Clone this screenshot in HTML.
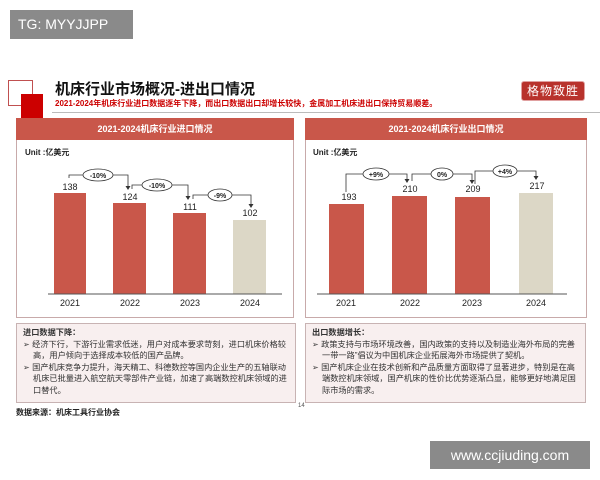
<!DOCTYPE html>
<html><head><meta charset="utf-8"><style>
*{margin:0;padding:0;box-sizing:border-box}
body{width:600px;height:480px;background:#fff;position:relative;overflow:hidden;font-family:"Liberation Sans","Noto Sans CJK SC",sans-serif}
.a{position:absolute}
.hdr{background:#c9574a;color:#fff;font-size:9px;font-weight:bold;text-align:center;line-height:22px}
.panel{border:1px solid #c8aaaa}
.box{background:#f8efef;border:1px solid #c8b3b3;font-size:8.2px;line-height:11.5px;color:#333;padding:3px 6px}
.box p{padding-left:10px;text-indent:-10px}
</style></head><body>
<div class="a" style="left:10px;top:10px;width:123px;height:29px;background:#8a8a8a;color:#fff;font-size:14px;line-height:29px;padding-left:8px">TG: MYYJJPP</div>
<div class="a" style="left:8px;top:80px;width:25px;height:26px;border:1px solid #c05050"></div>
<div class="a" style="left:21px;top:94px;width:22px;height:25px;background:#c00"></div>
<div class="a" style="left:55px;top:78px;font-size:15px;font-weight:bold;color:#111">机床行业市场概况-进出口情况</div>
<div class="a" style="left:55px;top:98px;font-size:8px;font-weight:bold;color:#c00">2021-2024年机床行业进口数据逐年下降，而出口数据出口却增长较快，金属加工机床进出口保持贸易顺差。</div>
<div class="a" style="left:52px;top:112px;width:548px;height:1px;background:#bbb"></div>
<div class="a" style="left:521px;top:81px;width:64px;height:20px;background:#b8322c;border:1px solid #e0a0a0;border-radius:3px;color:#fff;font-size:12px;line-height:18px;text-align:center;letter-spacing:1px">格物致胜</div>

<div class="a panel" style="left:16px;top:118px;width:278px;height:200px"></div>
<div class="a panel" style="left:305px;top:118px;width:282px;height:200px"></div>
<div class="a hdr" style="left:16px;top:118px;width:278px;height:22px">2021-2024机床行业进口情况</div>
<div class="a hdr" style="left:305px;top:118px;width:282px;height:22px">2021-2024机床行业出口情况</div>

<svg class="a" style="left:0;top:0" width="600" height="480" font-family="Liberation Sans, Noto Sans CJK SC, sans-serif">
<g font-size="8" font-weight="bold" fill="#222"><text x="25" y="155">Unit :亿美元</text><text x="313" y="155">Unit :亿美元</text></g>
<g fill="#c9574a">
<rect x="54" y="193" width="32" height="101"/><rect x="113" y="203" width="33" height="91"/><rect x="173" y="213" width="33" height="81"/>
<rect x="329" y="204" width="35" height="90"/><rect x="392" y="196" width="35" height="98"/><rect x="455" y="197" width="35" height="97"/>
</g>
<rect x="233" y="220" width="33" height="74" fill="#dcd7c6"/>
<rect x="519" y="193" width="34" height="101" fill="#dcd7c6"/>
<g stroke="#555" stroke-width="1"><line x1="48" y1="294" x2="282" y2="294"/><line x1="317" y1="294" x2="567" y2="294"/></g>
<g font-size="9" fill="#222" text-anchor="middle">
<text x="70" y="306">2021</text><text x="130" y="306">2022</text><text x="190" y="306">2023</text><text x="250" y="306">2024</text>
<text x="346" y="306">2021</text><text x="410" y="306">2022</text><text x="472" y="306">2023</text><text x="536" y="306">2024</text>
<text x="70" y="190">138</text><text x="130" y="200">124</text><text x="190" y="210">111</text><text x="250" y="216">102</text>
<text x="349" y="200">193</text><text x="410" y="192">210</text><text x="473" y="192">209</text><text x="537" y="189">217</text>
</g>
<g fill="none" stroke="#333" stroke-width="0.8">
<polyline points="69,178 69,175 128,175 128,187"/><polyline points="132,189 132,185 188,185 188,197"/><polyline points="193,199 193,195 251,195 251,205"/>
<polyline points="346,192 346,174 407,174 407,180"/><polyline points="412,181 412,174 472,174 472,181"/><polyline points="475,184 475,171 536,171 536,177"/>
</g>
<g fill="#333">
<polygon points="125.5,186 130.5,186 128,190"/><polygon points="185.5,196 190.5,196 188,200"/><polygon points="248.5,204 253.5,204 251,208"/>
<polygon points="404.5,179 409.5,179 407,183"/><polygon points="469.5,180 474.5,180 472,184"/><polygon points="533.5,176 538.5,176 536,180"/>
</g>
<g fill="#fff" stroke="#333" stroke-width="0.8">
<ellipse cx="98" cy="175" rx="15" ry="6"/><ellipse cx="157" cy="185" rx="15" ry="6"/><ellipse cx="220" cy="195" rx="12" ry="6"/>
<ellipse cx="376" cy="174" rx="13" ry="6"/><ellipse cx="442" cy="174" rx="11" ry="6"/><ellipse cx="505" cy="171" rx="12" ry="6"/>
</g>
<g font-size="7" font-weight="bold" fill="#222" text-anchor="middle">
<text x="98" y="178">-10%</text><text x="157" y="188">-10%</text><text x="220" y="198">-9%</text>
<text x="376" y="177">+9%</text><text x="442" y="177">0%</text><text x="505" y="174">+4%</text>
</g>
</svg>

<div class="a box" style="left:16px;top:323px;width:280px;height:80px"><b>进口数据下降：</b>
<p>➢ 经济下行，下游行业需求低迷，用户对成本要求苛刻，进口机床价格较高，用户倾向于选择成本较低的国产品牌。</p>
<p>➢ 国产机床竞争力提升，海天精工、科德数控等国内企业生产的五轴联动机床已批量进入航空航天零部件产业链，加速了高端数控机床领域的进口替代。</p></div>
<div class="a box" style="left:305px;top:323px;width:281px;height:80px"><b>出口数据增长：</b>
<p>➢ 政策支持与市场环境改善，国内政策的支持以及制造业海外布局的完善一带一路”倡议为中国机床企业拓展海外市场提供了契机。</p>
<p>➢ 国产机床企业在技术创新和产品质量方面取得了显著进步，特别是在高端数控机床领域，国产机床的性价比优势逐渐凸显，能够更好地满足国际市场的需求。</p></div>
<div class="a" style="left:16px;top:407px;font-size:8px;font-weight:bold;color:#222">数据来源：机床工具行业协会</div>
<div class="a" style="left:298px;top:403px;font-size:6px;color:#555">14</div>
<div class="a" style="left:430px;top:441px;width:160px;height:28px;background:#8a8a8a;color:#fff;font-size:14px;line-height:28px;text-align:center">www.ccjiuding.com</div>
</body></html>
